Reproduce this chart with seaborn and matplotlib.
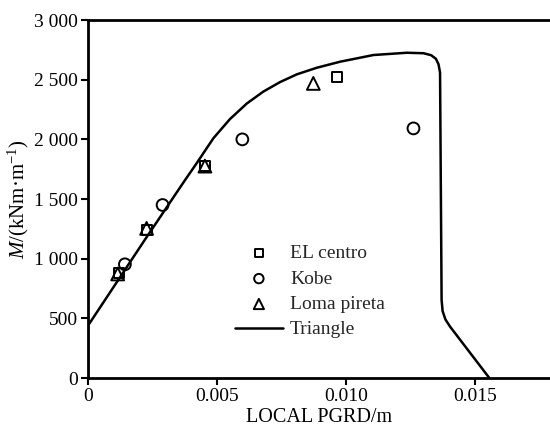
import matplotlib
matplotlib.use("Agg")
import matplotlib.pyplot as plt
import seaborn as sns
import pandas as pd

# ---- data ----
el_x = [0.0012, 0.00229, 0.00453, 0.00964]
el_y = [880, 1240, 1776, 2525]
kobe_x = [0.00143, 0.00289, 0.00598, 0.01261]
kobe_y = [953, 1450, 2000, 2092]
loma_x = [0.00115, 0.00227, 0.00453, 0.00873]
loma_y = [872, 1254, 1776, 2469]
tri_x = [0, 0, 0.00008, 0.00217, 0.00376, 0.00421, 0.00486, 0.00550, 0.00615,
         0.00679, 0.00744, 0.00809, 0.00886, 0.00977, 0.01106, 0.01235, 0.01300,
         0.01330, 0.01348, 0.01358, 0.01364, 0.01370, 0.01374, 0.01385, 0.01403,
         0.01555]
tri_y = [0, 440, 465, 1148, 1659, 1800, 2010, 2170, 2300,
         2400, 2480, 2545, 2600, 2651, 2707, 2726, 2722,
         2705, 2675, 2630, 2560, 654, 560, 490, 430,
         0]
x_ticks = [0, 0.005, 0.010, 0.015]
x_labels = ["0", "0.005", "0.010", "0.015"]
y_ticks = [0, 500, 1000, 1500, 2000, 2500, 3000]
y_labels = ["0", "500", "1 000", "1 500", "2 000", "2 500", "3 000"]

sns.set_theme(style="white")
plt.rcParams["font.family"] = ["Liberation Serif", "DejaVu Serif"]
plt.rcParams["mathtext.fontset"] = "custom"
plt.rcParams["mathtext.rm"] = "Liberation Serif"
plt.rcParams["mathtext.it"] = "Liberation Serif:italic"

fig = plt.figure(figsize=(5.5, 4.36), dpi=100)
ax = fig.add_axes([0.16, 0.133, 0.84, 0.821])

mk = dict(color="none", edgecolor="black", linewidth=1.4)
sns.scatterplot(x=el_x, y=el_y, marker="s", s=48, ax=ax, label="EL centro", **mk)
sns.scatterplot(x=kobe_x, y=kobe_y, marker="o", s=72, ax=ax, label="Kobe", **mk)
sns.scatterplot(x=loma_x, y=loma_y, marker="^", s=85, ax=ax, label="Loma pireta", **mk)
df = pd.DataFrame({"x": tri_x, "y": tri_y})
sns.lineplot(data=df, x="x", y="y", sort=False, estimator=None, color="black",
             linewidth=1.8, ax=ax, label="Triangle")

ax.set_xlim(0, 0.0179)
ax.set_ylim(0, 3000)
ax.set_xticks(x_ticks)
ax.set_xticklabels(x_labels)
ax.set_yticks(y_ticks)
ax.set_yticklabels(y_labels)
ax.tick_params(axis="both", which="major", labelsize=14, length=5, width=1.5,
               direction="out", color="black", labelcolor="black", pad=2,
               bottom=True, left=True)
for side in ["left", "bottom", "top"]:
    ax.spines[side].set_linewidth(2)
    ax.spines[side].set_color("black")
ax.spines["right"].set_visible(False)

ax.set_xlabel("LOCAL PGRD/m", fontsize=14.5, color="black", labelpad=2)
ax.set_ylabel(r"$\mathit{M}$/(kNm·m$^{-1}$)", fontsize=15, color="black", labelpad=2)

ax.legend(loc="upper left", bbox_to_anchor=(0.292, 0.405), frameon=False,
          fontsize=14, handlelength=2.5, handletextpad=0.35, labelspacing=0.4,
          borderpad=0.1, markerscale=0.8)

fig.savefig("out.png", dpi=100)
